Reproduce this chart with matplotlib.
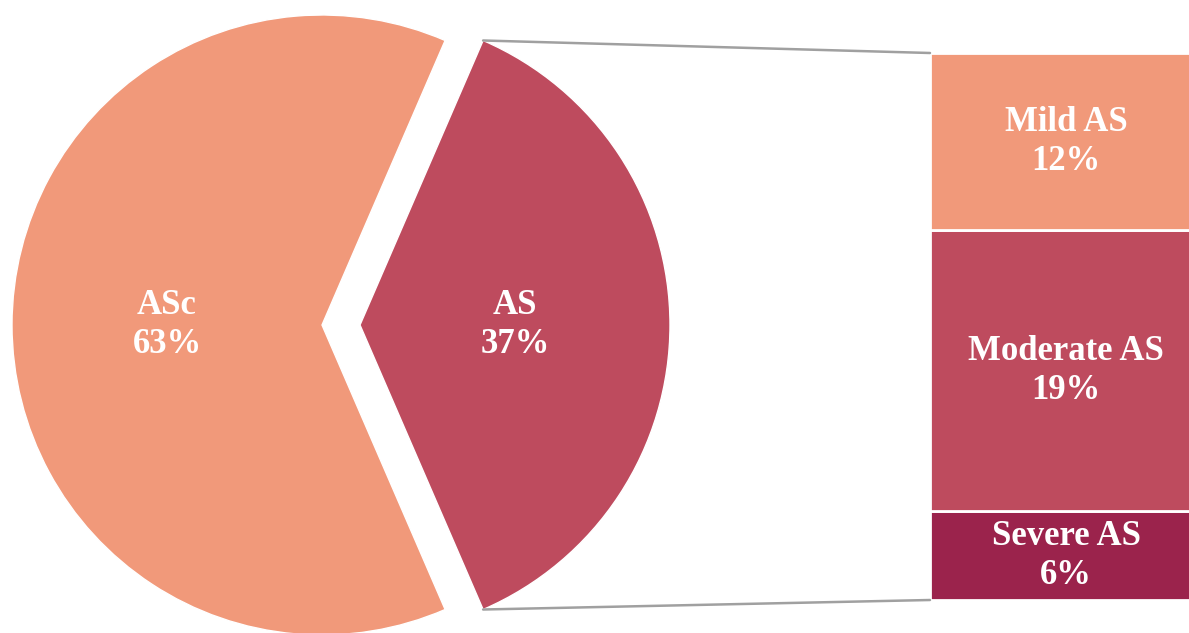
import numpy as np
import matplotlib.pyplot as plt
from matplotlib.patches import ConnectionPatch

# main pie data
pie_labels = ['AS', 'ASc']
pie_values = [37, 63]
pie_colors = ['#BE4B5E', '#F1997A']

# breakdown of AS
sub_labels = ['Severe AS', 'Moderate AS', 'Mild AS']
sub_values = [6, 19, 12]
sub_colors = ['#9B234C', '#BE4B5E', '#F1997A']

plt.rcParams['font.family'] = ['Liberation Serif', 'DejaVu Serif']

W, H = 1189, 633
fig = plt.figure(figsize=(W / 100, H / 100), dpi=100)
ax = fig.add_axes([0, 0, 1, 1])

radius = 310
start = -180 * pie_values[0] / sum(pie_values)
# explode is an absolute offset in data units (pixels here)
wedges, _ = ax.pie(pie_values, colors=pie_colors, radius=radius, center=(322, 308),
                   startangle=start, explode=[38, 0], counterclock=True,
                   wedgeprops=dict(edgecolor='white', linewidth=1), frame=True)
ax.set_xlim(0, W)
ax.set_ylim(0, H)
ax.set_aspect('equal')
ax.axis('off')

total = sum(pie_values)
for w, lab, v in zip(wedges, pie_labels, pie_values):
    mid = np.deg2rad((w.theta1 + w.theta2) / 2)
    cx, cy = w.center
    tx = cx + 0.5 * w.r * np.cos(mid)
    ty = cy + 0.5 * w.r * np.sin(mid)
    ax.text(tx, ty, f'{lab}\n{v / total:.0%}', ha='center', va='center',
            color='white', fontsize=25, fontweight='bold', linespacing=1.25)

# stacked bar on the right
bx = fig.add_axes([930 / W, 33 / H, 272 / W, 547 / H])
bottom = 0
for lab, v, c in zip(sub_labels, sub_values, sub_colors):
    bx.bar(0, v, width=1, bottom=bottom, color=c, edgecolor='white', linewidth=2)
    bx.text(0, bottom + v / 2, f'{lab}\n{v / total:.0%}', ha='center', va='center',
            color='white', fontsize=25, fontweight='bold', linespacing=1.25)
    bottom += v
bx.set_xlim(-0.5, 0.5)
bx.set_ylim(0, bottom)
bx.axis('off')

# connector lines from the AS wedge to the bar
w = wedges[0]
cx, cy = w.center
for ang, yb in [(w.theta2, bottom), (w.theta1, 0)]:
    a = np.deg2rad(ang)
    p = (cx + w.r * np.cos(a), cy + w.r * np.sin(a))
    con = ConnectionPatch(xyA=(-0.5, yb), coordsA=bx.transData, xyB=p, coordsB=ax.transData,
                          color='#A0A0A0', linewidth=1.8)
    fig.add_artist(con)

fig.savefig('out.png', dpi=100)
